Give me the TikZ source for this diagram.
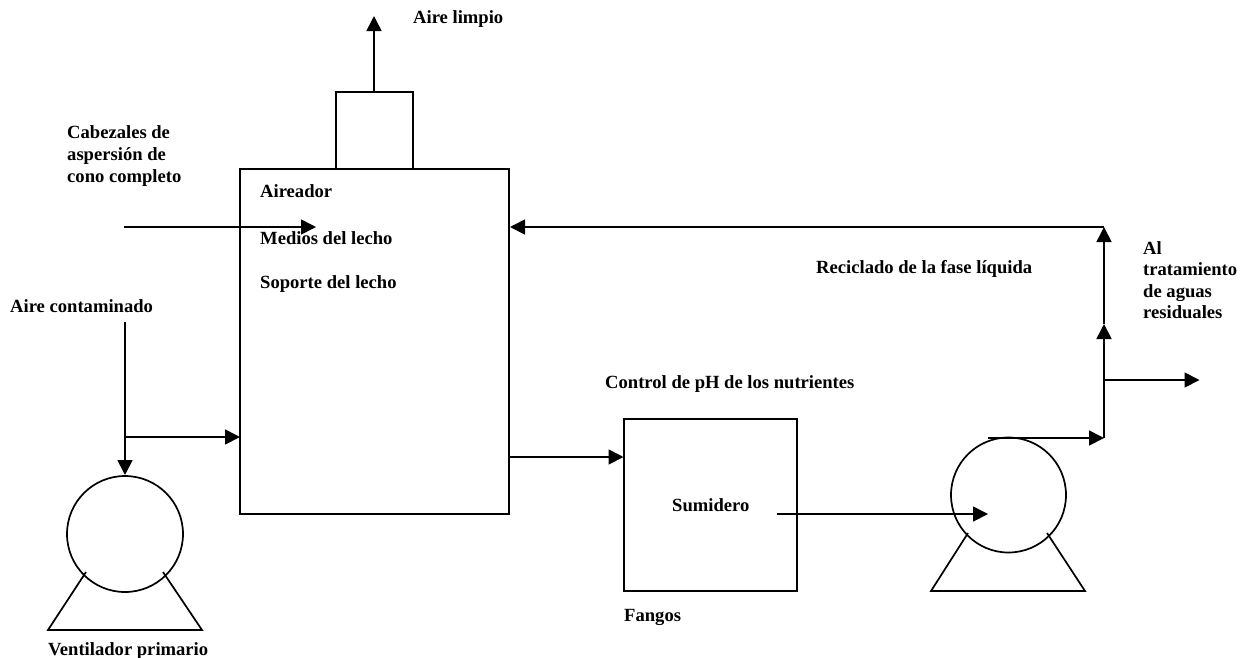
\documentclass[tikz,border=0pt]{standalone}
\usepackage{fontspec}
\setmainfont{Liberation Serif}
\usetikzlibrary{arrows.meta}
\tikzset{
  lbl/.style={font=\fontsize{18.6}{22}\selectfont\bfseries,inner sep=0pt,anchor=base west,align=left,text=black},
  ln/.style={line width=1.7pt,black,line join=miter},
  arr/.style={line width=1.7pt,black,-{Triangle[length=15pt,width=15pt]}},
  shp/.style={draw,line width=1.7pt,inner sep=0pt,outer sep=0pt,anchor=north west}
}
\begin{document}
\begin{tikzpicture}[x=1pt,y=-1pt]
\useasboundingbox (0,0) rectangle (1241,657);
% equipment
\node[shp,minimum width=269pt,minimum height=345pt] (aireador) at (240,169) {};
\node[shp,minimum width=77pt,minimum height=77pt] (top) at (336,92) {};
\node[shp,minimum width=173pt,minimum height=172pt] (sump) at (624,419) {};
\node[shp,circle,minimum size=116pt,anchor=center] (fan) at (125,534) {};
\node[shp,circle,minimum size=115pt,anchor=center] (pump) at (1008.5,495) {};
\coordinate (fanl) at (86,572);
\coordinate (fanr) at (163,572);
\draw[ln] (fanl) -- (48,630) -- (202,630) -- (fanr);
\coordinate (pumpl) at (968,533);
\coordinate (pumpr) at (1047,533);
\draw[ln] (pumpl) -- (931,591) -- (1085,591) -- (pumpr);
% connectors
\coordinate (airetop) at (374,92);
\coordinate (aireend) at (374,16);
\draw[arr] (airetop) -- (aireend);
\coordinate (cab) at (124,227);
\coordinate (cabe) at (316,227);
\draw[arr] (cab) -- (cabe);
\coordinate (ac) at (125,322);
\coordinate (acj) at (125,437);
\coordinate (ace) at (125,475);
\coordinate (ain) at (240,437);
\draw[arr] (ac) -- (ace);
\draw[arr] (acj) -- (ain);
\coordinate (out) at (509,457);
\coordinate (sin) at (623.5,457);
\draw[arr] (out) -- (sin);
\coordinate (s1) at (777,514);
\coordinate (s2) at (988,514);
\draw[arr] (s1) -- (s2);
\coordinate (p1) at (988,438);
\coordinate (p2) at (1104,438);
\draw[arr] (p1) -- (p2);
\coordinate (v2) at (1104,324);
\coordinate (v3) at (1104,227);
\draw[arr] (p2) -- (v2);
\draw[arr] (v2) -- (v3);
\coordinate (rin) at (510,227);
\draw[arr] (v3) -- (rin);
\coordinate (w1) at (1104,380);
\coordinate (w2) at (1199.5,380);
\draw[arr] (w1) -- (w2);
% labels
\node[lbl] (t1) at (413,23) {Aire limpio};
\node[lbl] (t2) at (67,138) {Cabezales de};
\node[lbl] (t2b) at (67,160) {aspersión de};
\node[lbl] (t2c) at (67,182) {cono completo};
\node[lbl] (t3) at (260,197) {Aireador};
\node[lbl] (t4) at (260,244) {Medios del lecho};
\node[lbl] (t5) at (260,288) {Soporte del lecho};
\node[lbl] (t6) at (10,312) {Aire contaminado};
\node[lbl] (t7) at (816,273) {Reciclado de la fase líquida};
\node[lbl] (t8) at (1143,254) {Al};
\node[lbl] (t8b) at (1143,275.5) {tratamiento};
\node[lbl] (t8c) at (1143,297) {de aguas};
\node[lbl] (t8d) at (1143,318) {residuales};
\node[lbl] (t9) at (605,388) {Control de pH de los nutrientes};
\node[lbl] (t10) at (672,511) {Sumidero};
\node[lbl] (t11) at (624,621) {Fangos};
\node[lbl] (t12) at (48,655) {Ventilador primario};
\end{tikzpicture}
\end{document}
